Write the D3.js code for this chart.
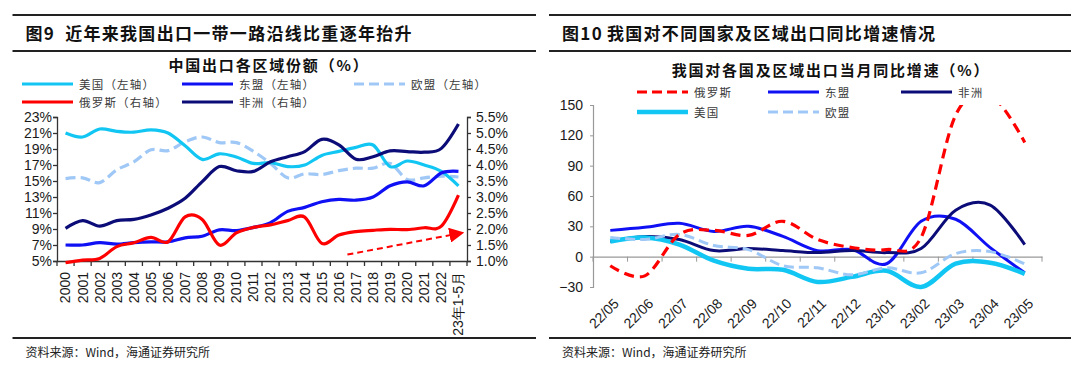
<!DOCTYPE html>
<html>
<head>
<meta charset="utf-8">
<script src="https://cdn.jsdelivr.net/npm/d3@7"></script>
<style>
  body { margin: 0; background: #fff; }
  svg { display: block; }
  .tick text { font-family: "Liberation Sans", Arial, sans-serif; font-size: 14px; fill: #1a1a1a; }
  .title { font-family: "Noto Sans CJK SC", sans-serif; font-weight: 700; font-size: 17px; fill: #111; letter-spacing: 1.3px; }
  .subtitle { font-family: "Noto Sans CJK SC", sans-serif; font-weight: 700; font-size: 15px; fill: #111; letter-spacing: 1.8px; }
  .legend { font-family: "Noto Sans CJK SC", sans-serif; font-size: 11.5px; fill: #3a3a3a; letter-spacing: 1.2px; }
  .source { font-family: "Noto Sans CJK SC", sans-serif; font-size: 12px; fill: #222; }
</style>
</head>
<body>
<svg id="fig" width="1080" height="372"></svg>
<script>
// ---------- data: left chart (share of China's exports, %) ----------
const years = ["2000","2001","2002","2003","2004","2005","2006","2007","2008","2009","2010","2011",
  "2012","2013","2014","2015","2016","2017","2018","2019","2020","2021","2022","23年1-5月"];
const usShare     = [21.0,20.5,21.5,21.2,21.1,21.4,21.0,19.4,17.7,18.4,18.0,17.2,17.3,16.8,17.0,18.2,18.7,19.2,19.5,16.8,17.5,17.0,16.2,14.4];
const aseanShare  = [7.0,7.0,7.3,7.1,7.3,7.4,7.4,7.9,8.1,8.9,8.8,9.2,9.8,11.2,11.7,12.4,12.7,12.6,13.0,14.4,14.9,14.4,16.0,16.2];
const euShare     = [15.3,15.4,14.8,16.4,17.4,18.9,18.8,19.9,20.5,19.8,19.8,18.7,17.2,15.4,15.9,15.8,16.3,16.6,16.6,17.2,15.2,15.4,15.6,15.5];
const russiaShare = [0.95,1.03,1.08,1.45,1.57,1.74,1.60,2.38,2.30,1.50,1.88,2.05,2.13,2.26,2.37,1.55,1.81,1.92,1.96,1.99,1.98,2.04,2.09,3.06];
const africaShare = [2.02,2.26,2.09,2.26,2.30,2.44,2.65,2.96,3.48,3.95,3.82,3.80,4.10,4.26,4.42,4.80,4.63,4.18,4.26,4.44,4.42,4.40,4.52,5.28];
const leftTicks  = [5,7,9,11,13,15,17,19,21,23];
const rightTicks = [1.0,1.5,2.0,2.5,3.0,3.5,4.0,4.5,5.0,5.5];

// ---------- data: right chart (monthly YoY export growth, %) ----------
const months = ["22/05","22/06","22/07","22/08","22/09","22/10","22/11","22/12","23/01","23/02","23/03","23/04","23/05"];
const russiaYoY = [-9,-19,22,26,21,35,17,9,7,19,140,160,113];
const aseanYoY  = [26,29,33,25,30,20,6,7,-7,35,37,9,-16];
const africaYoY = [15,20,17,6,8,6,4,6,4,8,46,51,12];
const usYoY     = [15,19,12,-4,-12,-13,-25,-20,-14,-30,-7,-6,-17];
const euYoY     = [19,17,22,11,7,-9,-11,-18,-11,-16,3,5,-7];
const yoyTicks  = [-30,0,30,60,90,120,150];

const Fig = d3.select("#fig");

// colours shared by both charts
const C = { us: "#12c6f3", asean: "#1010f5", eu: "#9fc8f6", russia: "#ff0000", africa: "#0c0c78" };

// ---------- frame: rules, titles, sources ----------
function frame(x0, x1, head, title, gap, source) {
    [15, 51, 338].forEach(y => {
        Fig.append("line").attr("x1", x0).attr("x2", x1).attr("y1", y).attr("y2", y)
            .attr("stroke", "#222").attr("stroke-width", 2);
    });
    const t = Fig.append("text").attr("class", "title").attr("x", x0 + 13).attr("y", 40);
    t.append("tspan").text(head);
    t.append("tspan").attr("dx", gap).text(title);
    Fig.append("text").attr("class", "source").attr("x", x0 + 13).attr("y", 357).text(source);
}
frame(12.5, 536, "图9", "近年来我国出口一带一路沿线比重逐年抬升", 10, "资料来源：Wind，海通证券研究所");
frame(549, 1071, "图10", "我国对不同国家及区域出口同比增速情况", 4, "资料来源：Wind，海通证券研究所");

// ---------- legend helper ----------
function legendItem(x, y, color, width, dash, label) {
    Fig.append("line").attr("x1", x).attr("x2", x + 51).attr("y1", y).attr("y2", y)
        .attr("stroke", color).attr("stroke-width", width)
        .attr("stroke-dasharray", dash ? "10,5" : null);
    Fig.append("text").attr("class", "legend").attr("x", x + 57).attr("y", y + 4.5).text(label);
}

// =====================================================================
// left chart
// =====================================================================
const xL = d3.scaleBand().domain(years).range([57, 467]);
const yLeft = d3.scaleLinear().domain([5, 23]).range([261, 117]);
const yRight = d3.scaleLinear().domain([1.0, 5.5]).range([261, 117]);

Fig.append("text").attr("class", "subtitle").attr("x", 269).attr("y", 70.5)
    .attr("text-anchor", "middle").text("中国出口各区域份额（%）");

legendItem(22, 84, C.us, 3, false, "美国（左轴）");
legendItem(182, 84, C.asean, 3, false, "东盟（左轴）");
legendItem(354, 84, C.eu, 3, true, "欧盟（左轴）");
legendItem(22, 102, C.russia, 3, false, "俄罗斯（右轴）");
legendItem(182, 102, C.africa, 3, false, "非洲（右轴）");

// axes
const axL = Fig.append("g").attr("transform", "translate(57,0)")
    .call(d3.axisLeft(yLeft).tickValues(leftTicks).tickSize(4).tickFormat(d => d + "%"));
const axR = Fig.append("g").attr("transform", "translate(467,0)")
    .call(d3.axisRight(yRight).tickValues(rightTicks).tickSize(4).tickFormat(d => d.toFixed(1) + "%"));
const axB = Fig.append("g").attr("transform", "translate(0,261)")
    .call(d3.axisBottom(xL).tickSize(0).tickFormat(d => d));
// tick marks on the band boundaries
axB.selectAll(".bnd").data(years.concat(["end"])).join("line")
    .attr("x1", (d, i) => 57 + i * xL.step()).attr("x2", (d, i) => 57 + i * xL.step())
    .attr("y1", 0).attr("y2", 5).attr("stroke", "#333").attr("stroke-width", 1.3);
axB.selectAll(".tick text")
    .attr("transform", "rotate(-90)").attr("text-anchor", "end")
    .attr("x", -11).attr("y", 0).attr("dy", "0.35em");
[axL, axR, axB].forEach(a => {
    a.select(".domain").attr("stroke", "#333").attr("stroke-width", 1.3);
    a.selectAll(".tick line").attr("stroke", "#333").attr("stroke-width", 1.3);
});
axL.selectAll(".tick text").attr("x", -5);
axR.selectAll(".tick text").attr("x", 9);

const lineL = (vals, yScale) => d3.line()
    .x((d, i) => xL(years[i]) + xL.bandwidth() / 2)
    .y(d => yScale(d))
    .curve(d3.curveCardinal)(vals);

const leftSeries = [
    { v: euShare, y: yLeft, c: C.eu, dash: "10,5" },
    { v: usShare, y: yLeft, c: C.us },
    { v: aseanShare, y: yLeft, c: C.asean },
    { v: africaShare, y: yRight, c: C.africa },
    { v: russiaShare, y: yRight, c: C.russia }
];
Fig.append("g").selectAll("path").data(leftSeries).join("path")
    .attr("d", s => lineL(s.v, s.y))
    .attr("fill", "none").attr("stroke", s => s.c).attr("stroke-width", 3.2)
    .attr("stroke-dasharray", s => s.dash || null);

// red dashed arrow (rising trend annotation)
Fig.append("defs").append("marker").attr("id", "arrow")
    .attr("viewBox", "0 0 10 10").attr("refX", 4).attr("refY", 5)
    .attr("markerWidth", 7.5).attr("markerHeight", 7.5).attr("orient", "auto")
    .attr("markerUnits", "strokeWidth")
    .append("path").attr("d", "M0,0L10,5L0,10Z").attr("fill", C.russia);
Fig.append("line")
    .attr("x1", xL("2017")).attr("y1", yRight(1.2))
    .attr("x2", xL("23年1-5月") + xL.bandwidth() / 2 - 3).attr("y2", yRight(1.84))
    .attr("stroke", C.russia).attr("stroke-width", 2).attr("stroke-dasharray", "6,4")
    .attr("marker-end", "url(#arrow)");

// =====================================================================
// right chart
// =====================================================================
const xR = d3.scaleBand().domain(months).range([593, 1042]);
const yY = d3.scaleLinear().domain([-30, 150]).range([287, 105]);

Fig.append("text").attr("class", "subtitle").attr("x", 831).attr("y", 76)
    .attr("text-anchor", "middle").text("我国对各国及区域出口当月同比增速（%）");

legendItem(637, 92, C.russia, 3, true, "俄罗斯");
legendItem(768, 92, C.asean, 3, false, "东盟");
legendItem(901, 92, C.africa, 3, false, "非洲");
legendItem(637, 112, C.us, 4.5, false, "美国");
legendItem(768, 112, C.eu, 3, true, "欧盟");

const axY = Fig.append("g").attr("transform", "translate(593,0)")
    .call(d3.axisLeft(yY).tickValues(yoyTicks).tickSize(3));
axY.selectAll(".tick text").attr("x", -10);
const axX = Fig.append("g").attr("transform", `translate(0,${yY(0)})`)
    .call(d3.axisBottom(xR).tickSize(0));
axX.selectAll(".bnd").data(months.concat(["end"])).join("line")
    .attr("x1", (d, i) => 593 + i * xR.step()).attr("x2", (d, i) => 593 + i * xR.step())
    .attr("y1", 0).attr("y2", 5).attr("stroke", "#999").attr("stroke-width", 1);
// rotated month labels, hanging below the -30 line
const labelTop = yY(-30) - yY(0) + 14;
axX.selectAll(".tick text")
    .attr("transform", `translate(6,${labelTop}) rotate(-45)`)
    .attr("text-anchor", "end").attr("x", 0).attr("y", 0).attr("dy", "0.35em");
[axY, axX].forEach(a => {
    a.select(".domain").attr("stroke", "#999").attr("stroke-width", 1.2);
    a.selectAll(".tick line").attr("stroke", "#999");
});

Fig.append("defs").append("clipPath").attr("id", "plotR")
    .append("rect").attr("x", 593).attr("y", 105).attr("width", 460).attr("height", 200);

const lineR = vals => d3.line()
    .x((d, i) => xR(months[i]) + xR.bandwidth() / 2)
    .y(d => yY(d))
    .curve(d3.curveCardinal)(vals);

const rightSeries = [
    { v: aseanYoY, c: C.asean, w: 3 },
    { v: africaYoY, c: C.africa, w: 3 },
    { v: usYoY, c: C.us, w: 4.5 },
    { v: euYoY, c: C.eu, w: 3, dash: "10,5" },
    { v: russiaYoY, c: C.russia, w: 3.2, dash: "10,6" }
];
Fig.append("g").attr("clip-path", "url(#plotR)")
    .selectAll("path").data(rightSeries).join("path")
    .attr("d", s => lineR(s.v))
    .attr("fill", "none").attr("stroke", s => s.c).attr("stroke-width", s => s.w)
    .attr("stroke-dasharray", s => s.dash || null);
</script>
</body>
</html>
